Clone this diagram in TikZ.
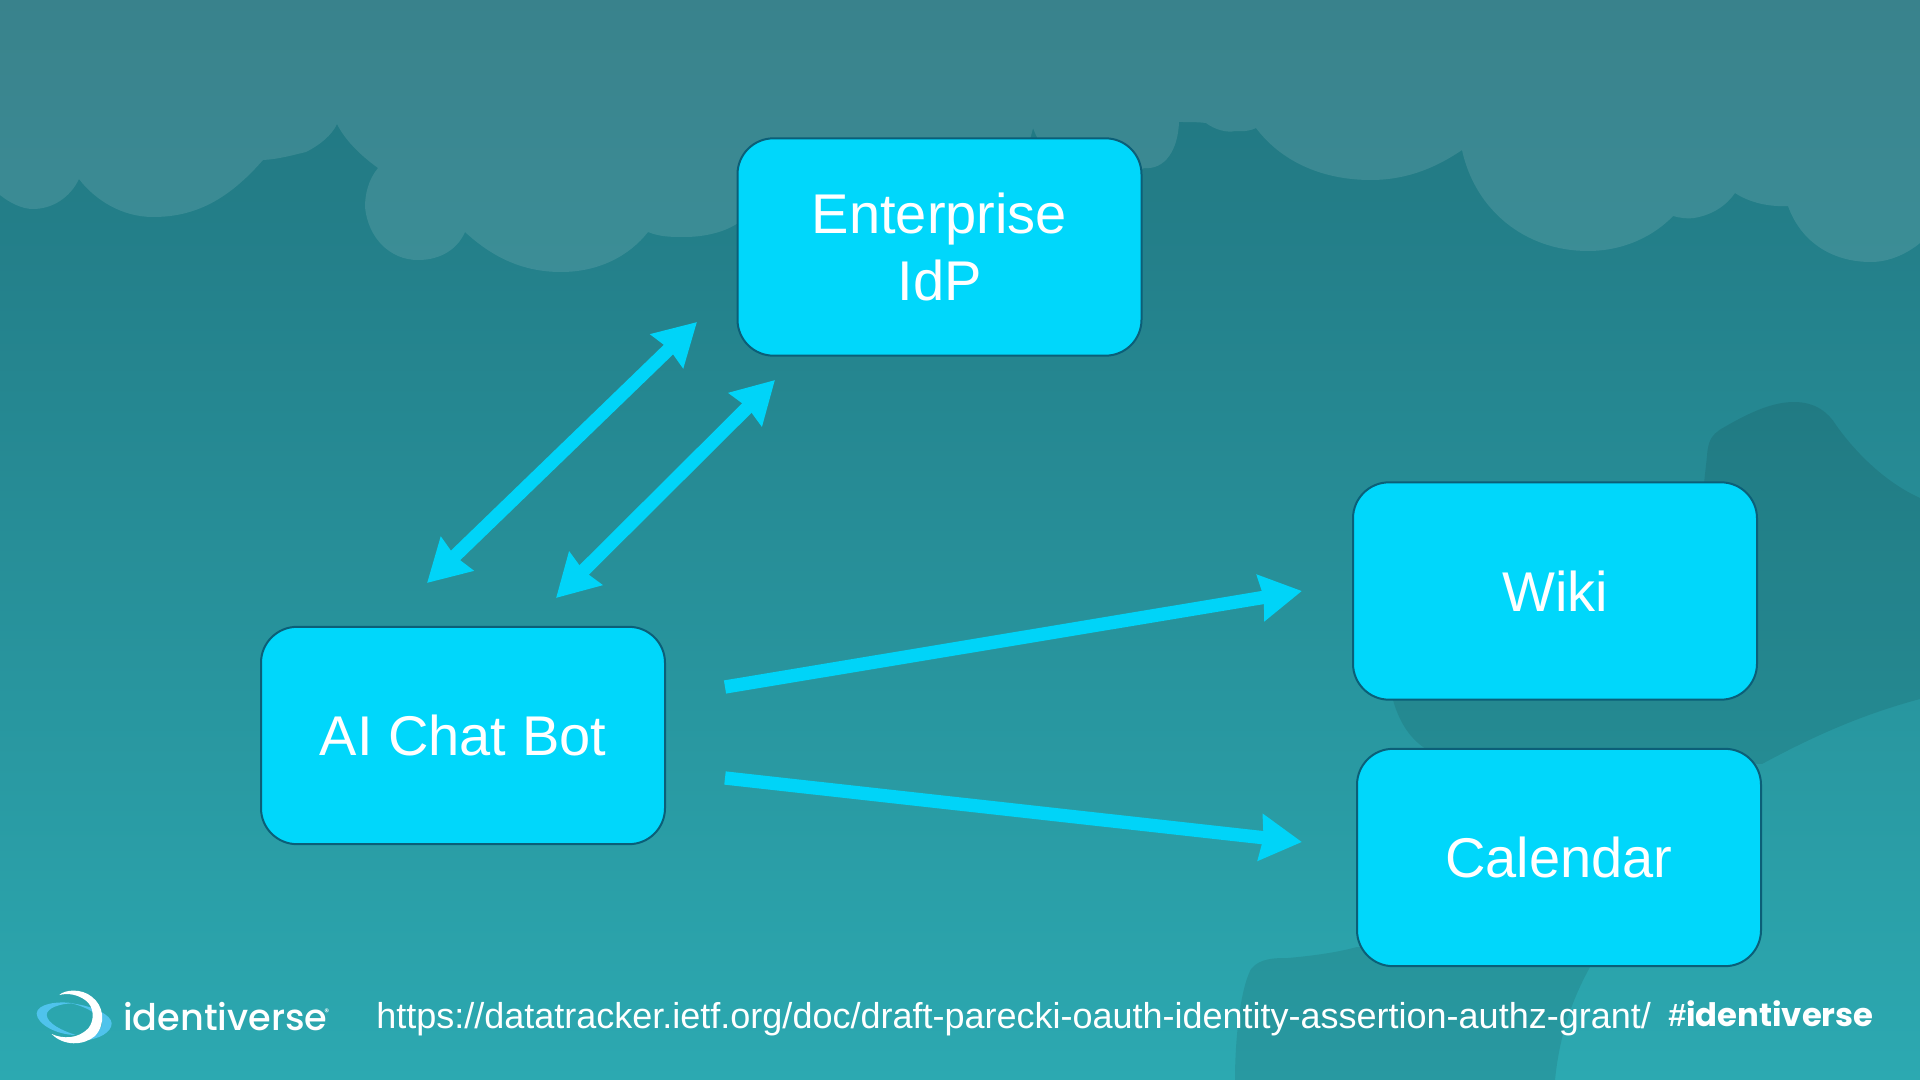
\documentclass[tikz,border=0pt]{standalone}
\usepackage{fontspec}
\usetikzlibrary{arrows.meta}
\setmainfont{Liberation Sans}
\newfontfamily\logofont{Poppins Medium}
\newfontfamily\tagfont{Poppins}
\definecolor{boxfill}{HTML}{00D7FB}
\definecolor{boxline}{HTML}{0B5F78}
\definecolor{arrowcol}{HTML}{00D4F8}
\definecolor{bgtop}{HTML}{21737E}
\definecolor{bgbot}{HTML}{2CA9B1}
\definecolor{logoblue}{HTML}{4FC3EC}
\tikzset{
  slidebox/.style={draw=boxline,line width=1.5pt,fill=boxfill,rounded corners=27pt,
    minimum width=303pt,minimum height=163pt,text=white,align=center,inner sep=0pt,
    font=\fontsize{42}{50}\selectfont},
  bigarrow/.style={draw=arrowcol,line width=10pt,
    -{Stealth[length=31pt,width=34pt,inset=2pt,color=arrowcol]}},
  dblarrow/.style={draw=arrowcol,line width=10pt,
    {Stealth[length=31pt,width=34pt,inset=2pt,color=arrowcol]}-{Stealth[length=31pt,width=34pt,inset=2pt,color=arrowcol]}},
  foot/.style={text=white,anchor=base west,inner sep=0pt},
  cloud layer/.style={fill=white,fill opacity=.11},
  dark blob/.style={fill=black,fill opacity=.09}
}
\begin{document}
\begin{tikzpicture}[x=.75pt,y=-.75pt]
\useasboundingbox (0,0) rectangle (1920,1080);
\clip (0,0) rectangle (1920,1080);
\fill[top color=bgtop,bottom color=bgbot] (0,0) rectangle (1920,1080);
% clouds
\fill[cloud layer] (0,0) -- (0,195)
  .. controls (10,203) and (22,209) .. (33,209)
  .. controls (52,209) and (70,198) .. (79,179)
  .. controls (95,200) and (122,217) .. (153,217)
  .. controls (195,217) and (228,200) .. (263,160)
  .. controls (280,159) and (293,155) .. (306,152)
  .. controls (320,145) and (332,135) .. (337,124)
  .. controls (345,140) and (360,155) .. (378,168)
  .. controls (368,180) and (365,195) .. (365,207)
  .. controls (368,238) and (390,260) .. (418,260)
  .. controls (442,260) and (458,248) .. (465,232)
  .. controls (490,255) and (520,272) .. (561,272)
  .. controls (600,272) and (630,255) .. (648,232)
  .. controls (660,237) and (672,237) .. (684,237)
  .. controls (705,237) and (725,232) .. (738,223)
  -- (780,260) -- (1000,200)
  .. controls (1015,180) and (1028,150) .. (1033,128)
  .. controls (1045,160) and (1080,205) .. (1144,168)
  .. controls (1165,170) and (1178,150) .. (1179,122)
  .. controls (1188,122) and (1198,122) .. (1206,123)
  .. controls (1215,130) and (1228,133) .. (1235,131)
  .. controls (1245,132) and (1252,130) .. (1256,128)
  .. controls (1280,160) and (1320,180) .. (1371,180)
  .. controls (1410,180) and (1440,165) .. (1462,150)
  .. controls (1475,210) and (1525,251) .. (1588,251)
  .. controls (1625,251) and (1655,235) .. (1673,216)
  .. controls (1680,218) and (1688,219) .. (1694,218)
  .. controls (1712,215) and (1726,206) .. (1735,193)
  .. controls (1750,203) and (1770,207) .. (1788,206)
  .. controls (1800,240) and (1830,262) .. (1871,262)
  .. controls (1890,262) and (1908,253) .. (1920,243)
  -- (1920,0) -- cycle;
% darker blobs
\fill[dark blob] (1707,456)
  .. controls (1708,440) and (1712,435) .. (1721,429)
  .. controls (1745,415) and (1770,402) .. (1794,402)
  .. controls (1815,402) and (1828,412) .. (1836,425)
  .. controls (1850,445) and (1880,480) .. (1920,498)
  -- (1920,699)
  .. controls (1860,715) and (1810,738) .. (1762,764)
  -- (1426,749)
  .. controls (1412,740) and (1400,725) .. (1393,700)
  -- (1400,520) -- (1700,520) -- cycle;
\fill[dark blob] (1235,1080)
  .. controls (1235,1040) and (1240,990) .. (1251,969)
  .. controls (1260,958) and (1275,958) .. (1288,958)
  .. controls (1310,956) and (1335,953) .. (1357,947)
  -- (1600,950)
  .. controls (1575,990) and (1560,1030) .. (1555,1080) -- cycle;
% boxes
\node[slidebox] (idp) at (939.5,247) {Enterprise\\[.9pt]IdP};
\node[slidebox] (bot) at (463,735.5) {AI Chat Bot};
\node[slidebox] (wiki) at (1555,591) {Wiki};
\node[slidebox] (cal) at (1559,857.5) {Calendar};
% arrow ends
\coordinate (a1) at (697,322); \coordinate (a2) at (427,583);
\coordinate (b1) at (775,380); \coordinate (b2) at (556,598);
\coordinate (c1) at (725,687); \coordinate (c2) at (1302,591);
\coordinate (d1) at (725,778); \coordinate (d2) at (1302,842);
\draw[dblarrow] (a2) -- (a1);
\draw[dblarrow] (b2) -- (b1);
\draw[bigarrow] (c1) -- (c2);
\draw[bigarrow] (d1) -- (d2);
% logo
\begin{scope}[shift={(0,960)},x=.25pt,y=-.25pt]
\fill[logoblue] (222,130) .. controls (170,122) and (112,132) .. (110,160)
  .. controls (110,192) and (170,225) .. (228,225)
  .. controls (185,212) and (142,190) .. (140,165)
  .. controls (140,145) and (178,130) .. (222,130) -- cycle;
\fill[logoblue] (215,130) .. controls (280,138) and (335,165) .. (335,190)
  .. controls (335,218) and (295,238) .. (250,242)
  .. controls (280,225) and (310,208) .. (306,185)
  .. controls (295,160) and (255,140) .. (215,130) -- cycle;
\fill[white] (178,105) .. controls (195,88) and (245,85) .. (275,110)
  .. controls (310,135) and (320,190) .. (285,228)
  .. controls (250,258) and (190,258) .. (155,222)
  .. controls (190,238) and (235,236) .. (265,205)
  .. controls (285,180) and (282,140) .. (258,122)
  .. controls (235,104) and (205,98) .. (178,105) -- cycle;
\end{scope}
\node[foot,font=\logofont\fontsize{27.5}{32}\selectfont] (logotext) at (123,1030) {identiverse};
\node[foot,font=\logofont\fontsize{7}{8}\selectfont] (logoreg) at (324,1015) {®};
\node[foot,font=\fontsize{27}{30}\selectfont] (url) at (376,1028) {https://datatracker.ietf.org/doc/draft-parecki-oauth-identity-assertion-authz-grant/};
\node[foot,font=\fontsize{24.2}{30}\selectfont] (tag) at (1668,1026) {\textbf{\#}\tagfont\bfseries identiverse};
\end{tikzpicture}
\end{document}
